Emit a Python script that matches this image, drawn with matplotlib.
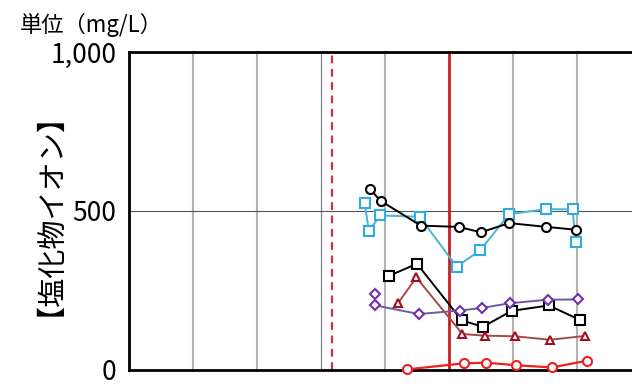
import matplotlib
matplotlib.use("Agg")
import matplotlib.pyplot as plt

plt.rcParams['font.family'] = ['Noto Sans CJK JP', 'DejaVu Sans']

# x positions in grid units (one vertical grid step = 1)
x_black_c = [3.77, 3.93, 4.56, 5.15, 5.50, 5.94, 6.52, 6.99]
y_black_c = [568, 532, 454, 450, 433, 462, 450, 441]

x_cyan = [3.68, 3.75, 3.92, 4.54, 5.12, 5.49, 5.94, 6.52, 6.93, 6.98]
y_cyan = [524, 436, 486, 482, 325, 377, 490, 506, 505, 403]

x_black_s = [4.06, 4.50, 5.20, 5.53, 5.98, 6.56, 7.04]
y_black_s = [296, 334, 156, 136, 186, 203, 158]

x_purple = [3.84, 3.85, 4.53, 5.17, 5.51, 5.95, 6.54, 7.02]
y_purple = [239, 203, 176, 187, 195, 210, 221, 222]

x_brown = [4.21, 4.49, 5.21, 5.56, 6.03, 6.58, 7.12]
y_brown = [212, 291, 113, 108, 106, 95, 107]

x_red = [4.35, 5.23, 5.58, 6.05, 6.61, 7.15]
y_red = [2, 21, 23, 15, 8, 29]

yticks = [0, 500, 1000]
ytick_labels = ['0', '500', '1,000']
light_grid = [1, 2, 4, 6, 7]
dark_grid = [3]
x_dashed = 3.17
x_solid = 5.0

fig = plt.figure(figsize=(6.32, 3.86), dpi=100)
ax = fig.add_axes([129 / 632, 16 / 386, 1 - 129 / 632, 318 / 386])

for g in light_grid:
    ax.axvline(g, color='#b4b4b4', lw=1.5, zorder=1)
for g in dark_grid:
    ax.axvline(g, color='#808080', lw=0.9, zorder=1)
ax.axhline(500, color='#555555', lw=0.8, zorder=1)
ax.axvline(x_dashed, color='#d0304a', lw=1.6, ls=(0, (3.5, 2.5)), zorder=2)
ax.axvline(x_solid, color='#c81e1e', lw=2.0, zorder=2)

mk = dict(markersize=6.5, markerfacecolor='white', markeredgewidth=1.5, zorder=4)
ax.plot(x_cyan, y_cyan, color='#4ab4d4', lw=1.4, marker='s', markeredgecolor='#2eaee0', **mk)
ax.plot(x_black_c, y_black_c, color='black', lw=1.4, marker='o', markeredgecolor='black', **mk)
ax.plot(x_black_s, y_black_s, color='black', lw=1.4, marker='s', markeredgecolor='black', **mk)
ax.plot(x_purple, y_purple, color='#6c5c98', lw=1.4, marker='D', markeredgecolor='#7030b0',
        markersize=5.5, markerfacecolor='white', markeredgewidth=1.5, zorder=4)
ax.plot(x_brown, y_brown, color='#a84848', lw=1.4, marker='^', markeredgecolor='#a01020',
        markersize=5.5, markerfacecolor='white', markeredgewidth=1.5, zorder=4)
ax.plot(x_red, y_red, color='#f02020', lw=1.6, marker='o', markeredgecolor='#f02020', **mk)

ax.set_xlim(0, 503 / 64)
ax.set_ylim(0, 1000)
ax.set_xticks([])
ax.set_yticks(yticks)
ax.set_yticklabels(ytick_labels, fontsize=19)
ax.tick_params(axis='y', length=0, pad=9)
# keep the "0" label inside the canvas
ax.get_yticklabels()[0].set_va('center_baseline')
for s in ['top', 'bottom', 'left']:
    ax.spines[s].set_linewidth(2)
    ax.spines[s].set_color('black')
ax.spines['right'].set_visible(False)
for line in ax.lines:
    line.set_clip_on(False)

fig.text(20 / 632, 1 - 25 / 386, '単位（mg/L）', fontsize=16, va='center', ha='left')
fig.text(36 / 632, 1 - 200 / 386, '【塩化物イオン】', fontsize=21, rotation=90,
         va='center', ha='center')

fig.savefig('out.png', dpi=100)
